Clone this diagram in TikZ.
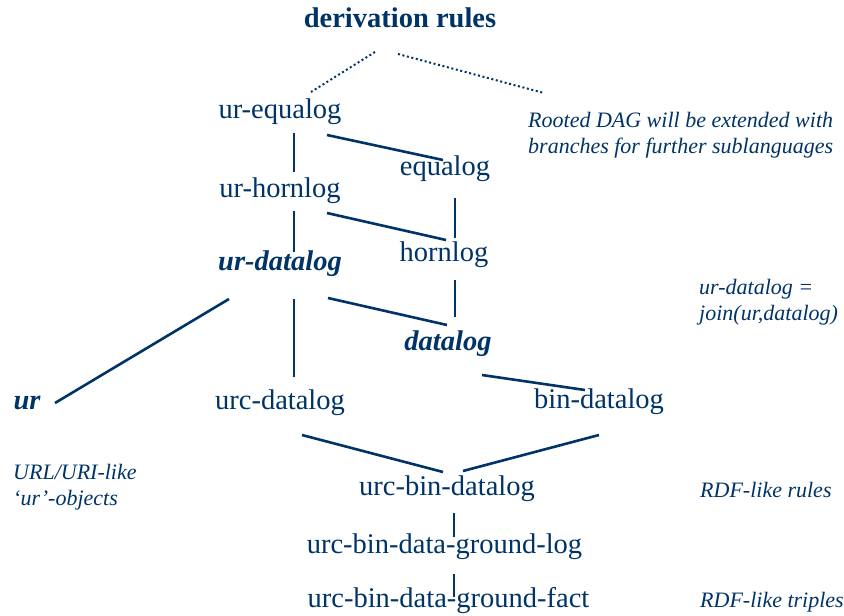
\documentclass[tikz,border=0pt]{standalone}
\usepackage{fontspec}
\setmainfont{Liberation Serif}
\usetikzlibrary{calc}
\definecolor{navy}{RGB}{0,51,102}

\begin{document}
\begin{tikzpicture}[x=1pt,y=-1pt,
    lang/.style={anchor=base,inner sep=0pt,text=navy,font=\fontsize{28.5}{34}\selectfont},
    note/.style={anchor=base west,inner sep=0pt,text=navy,align=left,font=\fontsize{22}{25.5}\selectfont\itshape},
    edge/.style={draw=navy,line width=2.6pt},
    dots/.style={draw=navy,line width=2pt,dash pattern=on 2pt off 2.6pt}]
  \useasboundingbox (0,0) rectangle (844,616);

  % the languages
  \node[lang,font=\fontsize{28.5}{34}\selectfont\bfseries] (title) at (400,27) {derivation rules};
  \node[lang] (urequalog) at (280,118) {ur-equalog};
  \node[lang] (equalog) at (445,175) {equalog};
  \node[lang] (urhornlog) at (280,197) {ur-hornlog};
  \node[lang] (hornlog) at (444,261) {hornlog};
  \node[lang,font=\fontsize{28.5}{34}\selectfont\bfseries\itshape] (urdatalog) at (280,270) {ur-datalog};
  \node[lang,font=\fontsize{28.5}{34}\selectfont\bfseries\itshape] (datalog) at (448,350) {datalog};
  \node[lang,font=\fontsize{28.5}{34}\selectfont\bfseries\itshape] (ur) at (27,409) {ur};
  \node[lang] (urcdatalog) at (280,409) {urc-datalog};
  \node[lang] (bindatalog) at (599,408) {bin-datalog};
  \node[lang] (urcbindatalog) at (447,495) {urc-bin-datalog};
  \node[lang] (groundlog) at (444.5,553) {urc-bin-data-ground-log};
  \node[lang] (groundfact) at (448.5,607) {urc-bin-data-ground-fact};

  % side notes (base = last line)
  \node[note] (dagnote) at (528,153) {Rooted DAG will be extended with\\branches for further sublanguages};
  \node[note] (joinnote) at (699,320) {ur-datalog =\\join(ur,datalog)};
  \node[note] (urnote) at (13,505) {URL/URI-like\\`ur'-objects};
  \node[note] (rulesnote) at (700,497) {RDF-like rules};
  \node[note] (triplesnote) at (700,607) {RDF-like triples};

  % dotted branches from the root
  \draw[dots] ($(title.base)+(-25,25)$) -- ($(urequalog.base)+(31,-26)$);
  \draw[dots] ($(title.base)+(-2,27)$) -- ($(dagnote.base west)+(16,-60)$);

  % edges of the DAG
  \draw[edge] ($(urequalog.base)+(14,15)$) -- ($(urhornlog.base)+(14,-25)$);
  \draw[edge] ($(urequalog.base)+(47,17)$) -- ($(equalog.base)+(-2,-15)$);
  \draw[edge] ($(urhornlog.base)+(47,16)$) -- ($(hornlog.base)+(2,-21)$);
  \draw[edge] ($(urhornlog.base)+(14,14)$) -- ($(urdatalog.base)+(14,-18)$);
  \draw[edge] ($(equalog.base)+(10,23)$) -- ($(hornlog.base)+(11,-23)$);
  \draw[edge] ($(hornlog.base)+(11,19)$) -- ($(datalog.base)+(7,-33)$);
  \draw[edge] ($(urdatalog.base)+(48,28)$) -- ($(datalog.base)+(-1,-25)$);
  \draw[edge] ($(urdatalog.base)+(-51,29)$) -- ($(ur.base)+(28,-6)$);
  \draw[edge] ($(urdatalog.base)+(14,29)$) -- ($(urcdatalog.base)+(14,-32)$);
  \draw[edge] ($(datalog.base)+(34,25)$) -- ($(bindatalog.base)+(-14,-18)$);
  \draw[edge] ($(urcdatalog.base)+(22,26)$) -- ($(urcbindatalog.base)+(-4,-23)$);
  \draw[edge] ($(bindatalog.base)+(0,27)$) -- ($(urcbindatalog.base)+(16,-24)$);
  \draw[edge] ($(urcbindatalog.base)+(7,18)$) -- ($(groundlog.base)+(9.5,-16)$);
  \draw[edge] ($(groundlog.base)+(9.5,21)$) -- ($(groundfact.base)+(5.5,-10)$);
\end{tikzpicture}
\end{document}
